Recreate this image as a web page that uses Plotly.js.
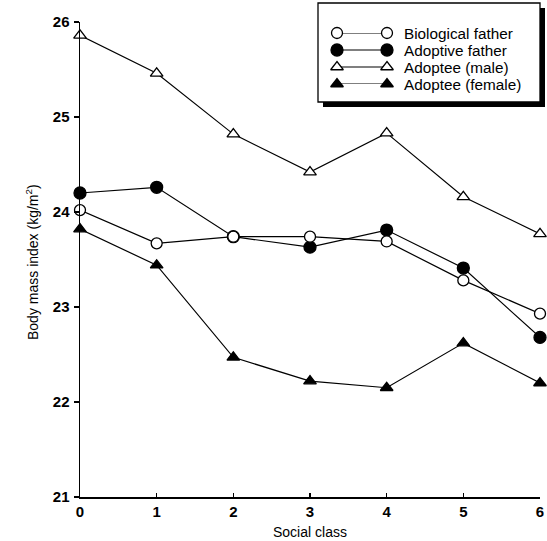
<!DOCTYPE html>
<html>
<head>
<meta charset="utf-8">
<script src="https://cdn.plot.ly/plotly-3.0.1.min.js"></script>
<style>html,body{margin:0;padding:0;background:#fff;}#chart{width:547px;height:541px;}</style>
</head>
<body>
<div id="chart"></div>
<script>
// ---- data ----
const socialClass = [0, 1, 2, 3, 4, 5, 6];
const biologicalFather = [24.02, 23.67, 23.74, 23.74, 23.69, 23.28, 22.93];
const adoptiveFather   = [24.20, 24.26, 23.74, 23.63, 23.81, 23.41, 22.68];
const adopteeMale      = [25.86, 25.46, 24.82, 24.42, 24.83, 24.16, 23.77];
const adopteeFemale    = [23.82, 23.44, 22.47, 22.22, 22.15, 22.62, 22.20];
const seriesNames = ["Biological father", "Adoptive father", "Adoptee (male)", "Adoptee (female)"];
const xTicks = [0, 1, 2, 3, 4, 5, 6];
const yTicks = [21, 22, 23, 24, 25, 26];

// ---- styles ----
const F = "'Liberation Sans', Arial, Helvetica, sans-serif";
const styles = [
  {symbol: 'circle', size: 11, fill: '#fff'},
  {symbol: 'circle', size: 12, fill: '#000'},
  {symbol: 'triangle-up', size: 11, fill: '#fff'},
  {symbol: 'triangle-up', size: 11, fill: '#000'}
];
const seriesData = [biologicalFather, adoptiveFather, adopteeMale, adopteeFemale];
const drawOrder = [2, 3, 1, 0];

const traces = [];
drawOrder.forEach(i => {
  traces.push({
    x: socialClass, y: seriesData[i], type: 'scatter', mode: 'lines+markers',
    name: seriesNames[i], showlegend: false, cliponaxis: false,
    line: {color: '#000', width: 1.2},
    marker: {symbol: styles[i].symbol, size: styles[i].size, color: styles[i].fill,
             line: {color: '#000', width: 1.3}}
  });
});
// legend samples (line with marker at both ends)
seriesNames.forEach((n, i) => {
  traces.push({
    x: [0, 1], y: [i, i], xaxis: 'x2', yaxis: 'y2', type: 'scatter', mode: 'lines+markers',
    showlegend: false, cliponaxis: false, hoverinfo: 'skip',
    line: {color: '#000', width: 1.2},
    marker: {symbol: styles[i].symbol, size: styles[i].size, color: styles[i].fill,
             line: {color: '#000', width: 1.3}}
  });
});

const W = 547, H = 541;
const L = 80, R = 7, T = 22, B = 44;
const pw = W - L - R, ph = H - T - B;
const px = v => (v - L) / pw;
const py = v => (H - B - v) / ph;

const annotations = [
  {text: 'Social class', xref: 'paper', yref: 'paper', x: px(310), y: py(532),
   showarrow: false, font: {family: F, size: 14, color: '#000'}, xanchor: 'center', yanchor: 'middle'},
  {text: 'Body mass index (kg/m<sup>2</sup>)', xref: 'paper', yref: 'paper', x: px(32), y: py(262),
   textangle: -90, showarrow: false, font: {family: F, size: 14, color: '#000'}, xanchor: 'center', yanchor: 'middle'}
];
seriesNames.forEach((n, i) => {
  annotations.push({text: n, xref: 'paper', yref: 'y2', x: px(402), y: i, xanchor: 'left', yanchor: 'middle',
    showarrow: false, font: {family: F, size: 15.3, color: '#000'}});
});

const shapes = [
  // shadow
  {type: 'rect', xref: 'paper', yref: 'paper', x0: px(323), x1: px(545), y0: py(107), y1: py(8),
   fillcolor: '#000', line: {width: 0}, layer: 'below'},
  // box
  {type: 'rect', xref: 'paper', yref: 'paper', x0: px(318), x1: px(540), y0: py(102), y1: py(3),
   fillcolor: '#fff', line: {color: '#000', width: 1.3}, layer: 'below'}
];

const layout = {
  width: W, height: H,
  margin: {l: L, r: R, t: T, b: B, pad: 0},
  paper_bgcolor: '#fff', plot_bgcolor: '#fff',
  showlegend: false,
  xaxis: {
    range: [0, 6], tickvals: xTicks, ticktext: xTicks.map(String),
    showgrid: false, zeroline: false, showline: true, linecolor: '#000', linewidth: 1.5,
    ticks: 'inside', ticklen: 4, tickwidth: 1.2, tickcolor: '#000',
    tickfont: {family: F, size: 15, color: '#000', weight: 'bold'}, ticklabelstandoff: 0,
    fixedrange: true
  },
  yaxis: {
    range: [21, 26], tickvals: yTicks, ticktext: yTicks.map(String),
    showgrid: false, zeroline: false, showline: true, linecolor: '#000', linewidth: 1.5,
    ticks: 'outside', ticklen: 5, tickwidth: 1.2, tickcolor: '#000',
    tickfont: {family: F, size: 15, color: '#000', weight: 'bold'}, ticklabelstandoff: 1,
    fixedrange: true
  },
  xaxis2: {domain: [px(337), px(387)], range: [0, 1], anchor: 'y2', visible: false, fixedrange: true},
  yaxis2: {domain: [py(84), py(33)], range: [3, 0], anchor: 'x2', visible: false, fixedrange: true},
  annotations: annotations,
  shapes: shapes
};

Plotly.newPlot('chart', traces, layout, {staticPlot: true, displayModeBar: false});
</script>
</body>
</html>
